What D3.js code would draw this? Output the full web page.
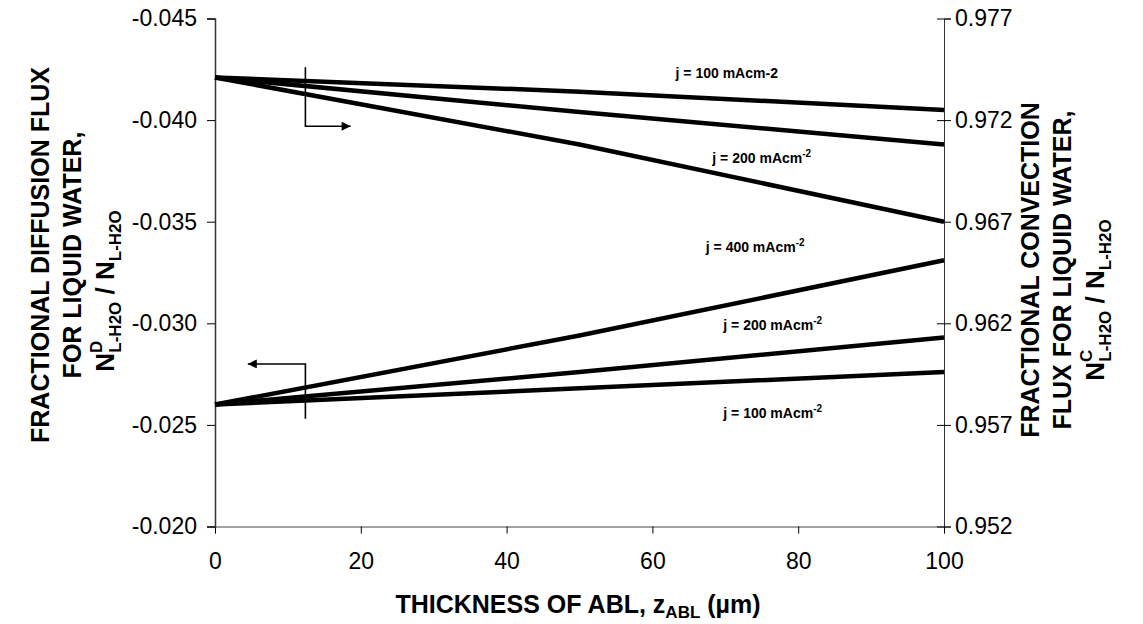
<!DOCTYPE html>
<html>
<head>
<meta charset="utf-8">
<script src="https://cdn.jsdelivr.net/npm/d3@7"></script>
<style>
  body { margin: 0; background: #fff; }
  text { font-family: "Liberation Sans", Arial, sans-serif; }
</style>
</head>
<body>
<script>
var W = 1143, H = 624;
var margin = { left: 215, right: 199, top: 18.5, bottom: 97.5 };

// thickness of ABL (um)
var thickness = [0, 50, 100];

// fractional convection flux (right axis)
var convection100 = [0.9741, 0.9734, 0.9725];
var convection200 = [0.9741, 0.9724, 0.9708];
var convection400 = [0.9741, 0.9708, 0.9670];

// fractional diffusion flux (left axis)
var diffusion100 = [-0.0260, -0.0268, -0.0276];
var diffusion200 = [-0.0260, -0.0276, -0.0293];
var diffusion400 = [-0.0260, -0.0294, -0.0331];

var xTicks = [0, 20, 40, 60, 80, 100];
var leftTicks = [-0.045, -0.040, -0.035, -0.030, -0.025, -0.020];
var rightTicks = [0.977, 0.972, 0.967, 0.962, 0.957, 0.952];

var labelText = ["j = 100 mAcm-2", "j = 200 mAcm", "j = 400 mAcm", "j = 200 mAcm", "j = 100 mAcm"];
var labelSup = ["", "-2", "-2", "-2", "-2"];

var svg = d3.select("body").append("svg")
  .attr("width", W)
  .attr("height", H);

var x = d3.scaleLinear().domain([0, 100]).range([margin.left, W - margin.right]);
var yL = d3.scaleLinear().domain([-0.045, -0.020]).range([margin.top, H - margin.bottom]);
var yR = d3.scaleLinear().domain([0.977, 0.952]).range([margin.top, H - margin.bottom]);

var fmt = function(d) { return d.toFixed(3); };

// x axis
var gx = svg.append("g")
  .attr("transform", "translate(0," + (H - margin.bottom) + ")")
  .call(d3.axisBottom(x).tickValues(xTicks).tickSize(7).tickPadding(19));
gx.select(".domain").attr("stroke", "#444");
gx.selectAll("text").attr("font-size", 23).attr("fill", "#000");

// left axis
var gl = svg.append("g")
  .attr("transform", "translate(" + margin.left + ",0)")
  .call(d3.axisLeft(yL).tickValues(leftTicks).tickFormat(fmt).tickSize(8).tickPadding(10));
gl.select(".domain").attr("stroke", "#333").attr("stroke-width", 1.5);
gl.selectAll("text").attr("font-size", 23).attr("fill", "#000");

// right axis, ticks cross the line
var gr = svg.append("g")
  .attr("transform", "translate(" + (W - margin.right) + ",0)")
  .call(d3.axisRight(yR).tickValues(rightTicks).tickFormat(fmt).tickSize(7).tickPadding(4));
gr.select(".domain").attr("stroke", "#333");
gr.selectAll(".tick line").attr("x1", -7).attr("x2", 7);
gr.selectAll("text").attr("font-size", 23).attr("fill", "#000");

// curves
var lineL = d3.line().x(function(d) { return x(d[0]); }).y(function(d) { return yL(d[1]); });
var lineR = d3.line().x(function(d) { return x(d[0]); }).y(function(d) { return yR(d[1]); });

[convection100, convection200, convection400].forEach(function(s) {
  svg.append("path")
    .datum(d3.zip(thickness, s))
    .attr("d", lineR)
    .attr("fill", "none")
    .attr("stroke", "#000")
    .attr("stroke-width", 4.5);
});
[diffusion100, diffusion200, diffusion400].forEach(function(s) {
  svg.append("path")
    .datum(d3.zip(thickness, s))
    .attr("d", lineL)
    .attr("fill", "none")
    .attr("stroke", "#000")
    .attr("stroke-width", 4.5);
});

// curve labels (positions in axis units, left scale)
var labelPos = [[70.2, -0.04233], [75.0, -0.03813], [74.1, -0.03377], [76.5, -0.02992], [76.5, -0.02559]];
labelText.forEach(function(t, i) {
  var tx = svg.append("text")
    .attr("x", x(labelPos[i][0]))
    .attr("y", yL(labelPos[i][1]))
    .attr("dy", "0.35em")
    .attr("text-anchor", "middle")
    .attr("font-size", 14)
    .attr("font-weight", "bold")
    .text(t);
  if (labelSup[i]) {
    tx.append("tspan")
      .attr("font-size", 10)
      .attr("dy", -6)
      .text(labelSup[i]);
  }
});

// axis pointer arrows
svg.append("defs").append("marker")
  .attr("id", "head")
  .attr("viewBox", "0 0 10 10")
  .attr("refX", 10).attr("refY", 5)
  .attr("markerWidth", 11).attr("markerHeight", 9)
  .attr("markerUnits", "userSpaceOnUse")
  .attr("orient", "auto")
  .append("path")
  .attr("d", "M0,0 L10,5 L0,10 Z")
  .attr("fill", "#000");

var arrows = [
  [[12.4, -0.0426], [12.4, -0.0397], [18.6, -0.0397]],
  [[12.4, -0.0253], [12.4, -0.0280], [4.5, -0.0280]]
];
arrows.forEach(function(a) {
  svg.append("path")
    .datum(a)
    .attr("d", lineL)
    .attr("fill", "none")
    .attr("stroke", "#000")
    .attr("stroke-width", 1.6)
    .attr("marker-end", "url(#head)");
});

// axis titles
var xt = svg.append("text")
  .attr("x", 578)
  .attr("y", 613)
  .attr("text-anchor", "middle")
  .attr("font-size", 25)
  .attr("font-weight", "bold");
xt.append("tspan").text("THICKNESS OF ABL, z");
xt.append("tspan").attr("font-size", 17).attr("dy", 5).text("ABL");
xt.append("tspan").attr("dy", -5).text(" (\u00b5m)");

function sideTitle(cx, cy, shift3, line1, line2, sup) {
  var g = svg.append("g").attr("transform", "translate(" + cx + "," + cy + ") rotate(-90)");
  var t = g.append("text")
    .attr("text-anchor", "middle")
    .attr("font-size", 25)
    .attr("font-weight", "bold");
  t.append("tspan").attr("x", 0).attr("y", 0).text(line1);
  t.append("tspan").attr("x", 0).attr("y", 32).text(line2);
  var t3 = g.append("text")
    .attr("text-anchor", "middle")
    .attr("x", -shift3)
    .attr("y", 65)
    .attr("font-size", 26)
    .attr("font-weight", "bold");
  t3.append("tspan").text("N");
  t3.append("tspan").attr("font-size", 17).attr("dy", -12).text(sup);
  t3.append("tspan").attr("font-size", 17).attr("dx", -12).attr("dy", 19).text("L-H2O");
  t3.append("tspan").attr("dy", -7).text(" / N");
  t3.append("tspan").attr("font-size", 17).attr("dy", 7).text("L-H2O");
}
sideTitle(49, 255, 36, "FRACTIONAL DIFFUSION FLUX", "FOR LIQUID WATER,", "D");
sideTitle(1039, 270, 30, "FRACTIONAL CONVECTION", "FLUX FOR LIQUID WATER,", "C");
</script>
</body>
</html>
